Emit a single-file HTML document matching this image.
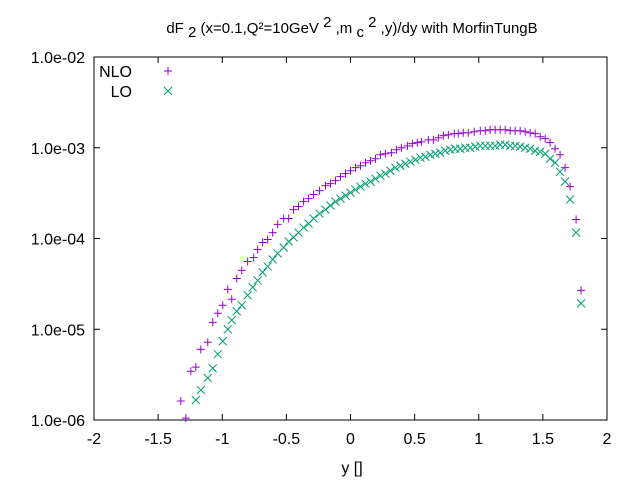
<!DOCTYPE html>
<html><head><meta charset="utf-8"><style>
body{margin:0;background:#fff}
svg{display:block;font-family:"Liberation Sans",sans-serif}
</style></head><body>
<svg id="chart" width="640" height="480" viewBox="0 0 640 480">
<rect x="0" y="0" width="640" height="480" fill="#fff"/>
<text x="352" y="33" font-size="15" text-anchor="middle">dF<tspan dy="4"> 2</tspan><tspan dy="-4"> (x=0.1,Q²=10GeV</tspan><tspan dy="-6"> 2</tspan><tspan dy="6"> ,m</tspan><tspan dy="4"> c</tspan><tspan dy="-10"> 2</tspan><tspan dy="6"> ,y)/dy with MorfinTungB</tspan></text>
<g id="axes"></g>
<g id="marks"></g>
<text x="352" y="473" font-size="16" text-anchor="middle">y []</text>
<g>
<text x="132" y="77" font-size="16" text-anchor="end">NLO</text>
<text x="132" y="97" font-size="16" text-anchor="end">LO</text>
</g>
</svg>
<script>
const xTicks=[-2,-1.5,-1,-0.5,0,0.5,1,1.5,2];
const xTickLabels=["-2","-1.5","-1","-0.5","0","0.5","1","1.5","2"];
const yTicks=[1e-6,1e-5,1e-4,1e-3,1e-2];
const yTickLabels=["1.0e-06","1.0e-05","1.0e-04","1.0e-03","1.0e-02"];
const nloX=[-1.323,-1.284,-1.245,-1.206,-1.167,-1.113,-1.074,-1.035,-0.996,-0.957,-0.926,-0.887,-0.848,-0.802,-0.755,-0.724,-0.685,-0.646,-0.607,-0.568,-0.521,-0.482,-0.444,-0.405,-0.366,-0.327,-0.288,-0.241,-0.195,-0.156,-0.117,-0.078,-0.039,0.0,0.039,0.078,0.117,0.156,0.195,0.233,0.272,0.319,0.358,0.397,0.444,0.482,0.521,0.553,0.607,0.646,0.685,0.724,0.763,0.809,0.840,0.879,0.918,0.965,1.012,1.051,1.089,1.128,1.167,1.206,1.245,1.284,1.323,1.362,1.401,1.440,1.479,1.518,1.556,1.595,1.634,1.673,1.712,1.759,1.798];
const nloY=[1.62e-6,1.05e-6,3.45e-6,3.82e-6,6.0e-6,7.2e-6,1.19e-5,1.50e-5,1.84e-5,2.75e-5,2.14e-5,3.63e-5,4.45e-5,5.58e-5,6.18e-5,7.57e-5,9.04e-5,9.75e-5,1.16e-4,1.43e-4,1.66e-4,1.66e-4,2.08e-4,2.25e-4,2.55e-4,2.75e-4,3.05e-4,3.37e-4,3.82e-4,4.02e-4,4.34e-4,4.80e-4,5.18e-4,5.58e-4,6.03e-4,6.34e-4,6.84e-4,7.19e-4,7.57e-4,8.37e-4,8.59e-4,8.81e-4,9.51e-4,1.0e-3,1.05e-3,1.11e-3,1.14e-3,1.16e-3,1.22e-3,1.22e-3,1.29e-3,1.36e-3,1.39e-3,1.43e-3,1.43e-3,1.46e-3,1.46e-3,1.50e-3,1.54e-3,1.54e-3,1.58e-3,1.58e-3,1.58e-3,1.58e-3,1.54e-3,1.54e-3,1.54e-3,1.50e-3,1.46e-3,1.43e-3,1.32e-3,1.26e-3,1.14e-3,9.75e-4,8.37e-4,6.03e-4,3.73e-4,1.62e-4,2.68e-5];
const loX=[-1.206,-1.167,-1.113,-1.074,-1.035,-0.996,-0.957,-0.926,-0.887,-0.848,-0.802,-0.763,-0.724,-0.685,-0.646,-0.607,-0.568,-0.521,-0.482,-0.444,-0.405,-0.366,-0.327,-0.288,-0.241,-0.195,-0.156,-0.117,-0.078,-0.039,0.0,0.039,0.078,0.117,0.156,0.195,0.233,0.272,0.311,0.350,0.389,0.428,0.467,0.506,0.545,0.584,0.623,0.661,0.700,0.739,0.778,0.817,0.856,0.895,0.934,0.973,1.012,1.051,1.089,1.128,1.167,1.206,1.245,1.284,1.323,1.362,1.401,1.440,1.479,1.518,1.556,1.595,1.634,1.673,1.712,1.759,1.798];
const loY=[1.66e-6,2.14e-6,2.90e-6,3.72e-6,5.31e-6,7.38e-6,1.0e-5,1.26e-5,1.58e-5,1.84e-5,2.37e-5,2.90e-5,3.45e-5,4.23e-5,4.92e-5,5.87e-5,6.84e-5,7.96e-5,9.27e-5,1.03e-4,1.16e-4,1.32e-4,1.46e-4,1.66e-4,1.88e-4,2.08e-4,2.31e-4,2.55e-4,2.75e-4,2.97e-4,3.20e-4,3.45e-4,3.73e-4,4.02e-4,4.23e-4,4.56e-4,4.92e-4,5.18e-4,5.58e-4,6.03e-4,6.34e-4,6.67e-4,7.02e-4,7.38e-4,7.77e-4,7.96e-4,8.37e-4,8.59e-4,8.81e-4,9.27e-4,9.51e-4,9.75e-4,9.75e-4,1.0e-3,1.0e-3,1.03e-3,1.05e-3,1.05e-3,1.05e-3,1.05e-3,1.08e-3,1.08e-3,1.05e-3,1.05e-3,1.03e-3,1.0e-3,9.75e-4,9.27e-4,9.04e-4,8.59e-4,7.57e-4,6.84e-4,5.44e-4,4.23e-4,2.69e-4,1.16e-4,1.93e-5];

const L=94,R=607,T=57,B=420;
const xs=v=>L+(v+2)/4*(R-L);
const ys=v=>B-(Math.log10(v)+6)/4*(B-T);
const NS='http://www.w3.org/2000/svg';
const axes=document.getElementById('axes');
const marks=document.getElementById('marks');
function mk(tag,attrs,parent){const e=document.createElementNS(NS,tag);for(const k in attrs)e.setAttribute(k,attrs[k]);parent.appendChild(e);return e;}

const frame=mk('rect',{x:L,y:T,width:R-L,height:B-T,fill:'none',stroke:'#000','stroke-width':1},axes);



xTicks.forEach((t,i)=>{
  const x=xs(t);
  const tk=mk('path',{d:`M${x},${B}v-6M${x},${T}v6`,stroke:'#000','stroke-width':1},axes);
  
  
  const lb=mk('text',{x:x,y:B+24,'font-size':16,'text-anchor':'middle'},axes);
  lb.textContent=xTickLabels[i];
  
  
});
yTicks.forEach((t,i)=>{
  const y=ys(t);
  const tk=mk('path',{d:`M${L},${y}h6M${R},${y}h-6`,stroke:'#000','stroke-width':1},axes);
  
  
  const lb=mk('text',{x:L-9,y:y+6,'font-size':16,'text-anchor':'end'},axes);
  lb.textContent=yTickLabels[i];
  
  
});

function plus(x,y,name){
  const p=mk('path',{d:`M${x-4},${y}h8M${x},${y-4}v8`,stroke:'#9400d3','stroke-width':1,fill:'none'},marks);
  
  
}
function cross(x,y,name){
  const p=mk('path',{d:`M${x-4},${y-4}l8,8M${x-4},${y+4}l8,-8`,stroke:'#009e73','stroke-width':1,fill:'none'},marks);
  
  
}
nloX.forEach((v,i)=>plus(xs(v),ys(nloY[i]),'nlo-point'));
loX.forEach((v,i)=>cross(xs(v),ys(loY[i]),'lo-point'));
plus(168,71,'legend-marker-nlo');
cross(168,91,'legend-marker-lo');
</script>
</body></html>
